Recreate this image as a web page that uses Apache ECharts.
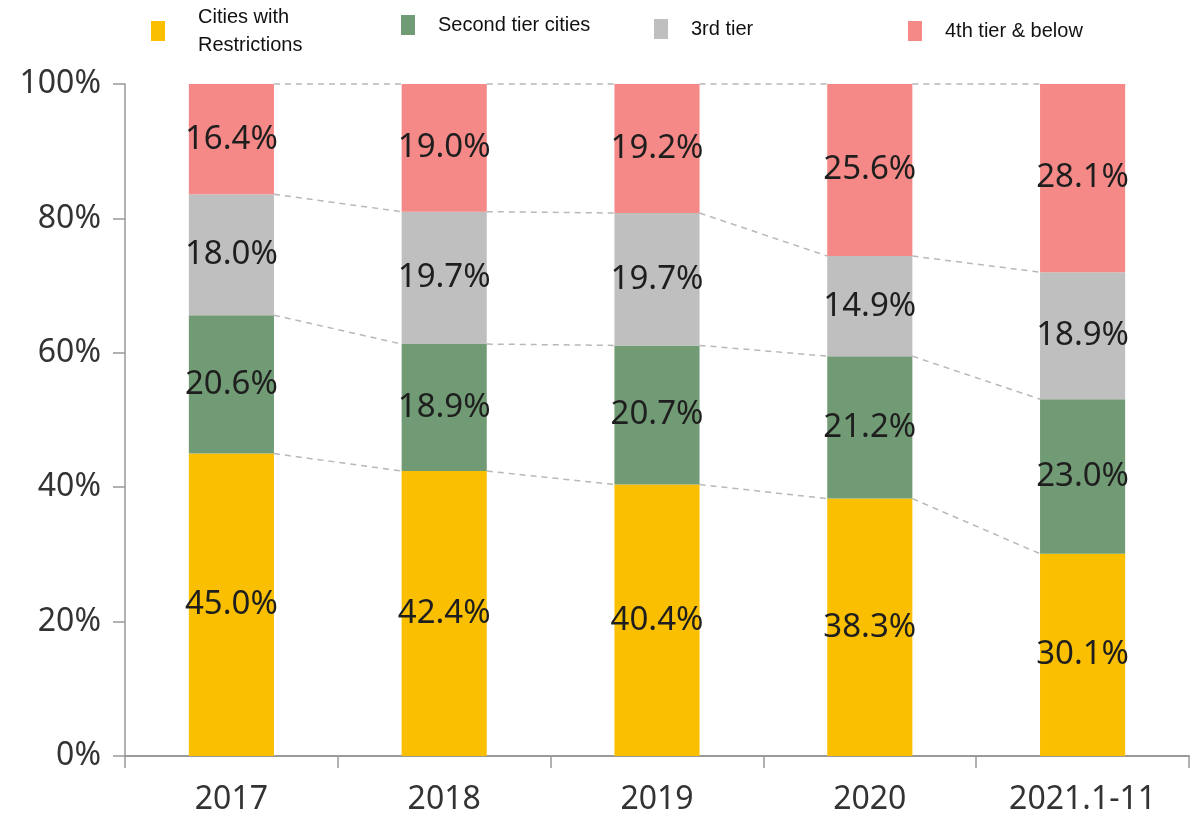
<!DOCTYPE html>
<html>
<head>
<meta charset="utf-8">
<script src="https://cdn.jsdelivr.net/npm/echarts@6/dist/echarts.min.js"></script>
<style>
  html, body { margin: 0; padding: 0; background: #fff; }
  #chart { width: 1191px; height: 817px; }
</style>
</head>
<body>
<div id="chart"></div>
<script>
var years = ['2017', '2018', '2019', '2020', '2021.1-11'];
var restricted = [45.0, 42.4, 40.4, 38.3, 30.1];
var secondTier = [20.6, 18.9, 20.7, 21.2, 23.0];
var thirdTier = [18.0, 19.7, 19.7, 14.9, 18.9];
var fourthTier = [16.4, 19.0, 19.2, 25.6, 28.1];
var yTicks = [0, 20, 40, 60, 80, 100];

var names = ['Cities with\nRestrictions', 'Second tier cities', '3rd tier', '4th tier & below'];
var colors = ['#f9bf00', '#719b74', '#bfbfbf', '#f58987'];
var groups = [restricted, secondTier, thirdTier, fourthTier];

// dashed connectors between neighbouring bars, at every stack boundary
var links = [];
for (var i = 0; i < years.length - 1; i++) {
  var a = 0, b = 0;
  for (var k = 0; k < groups.length; k++) {
    a += groups[k][i];
    b += groups[k][i + 1];
    if (k === groups.length - 1) { a = 100; b = 100; }
    links.push([i, a, b]);
  }
}

var labelStyle = {
  show: true,
  position: 'inside',
  color: '#1e1e1e',
  fontSize: 33,
  fontFamily: 'Noto Sans',
  formatter: function (p) { return p.value.toFixed(1) + '%'; }
};

var series = groups.map(function (g, k) {
  return {
    name: names[k],
    type: 'bar',
    stack: 'total',
    barWidth: '40%',
    itemStyle: { color: colors[k] },
    label: labelStyle,
    data: g
  };
});

series.push({
  type: 'custom',
  silent: true,
  z: 1,
  encode: { x: 0, y: 1 },
  renderItem: function (params, api) {
    var half = api.size([1, 0])[0] * 0.2;
    var p1 = api.coord([api.value(0), api.value(1)]);
    var p2 = api.coord([api.value(0) + 1, api.value(2)]);
    return {
      type: 'line',
      shape: { x1: p1[0] + half, y1: p1[1], x2: p2[0] - half, y2: p2[1] },
      style: { stroke: '#b8b8b8', lineWidth: 1.5, lineDash: [6, 5] }
    };
  },
  data: links
});

var legendBase = {
  orient: 'horizontal',
  itemWidth: 14,
  itemHeight: 20,
  itemGap: 0,
  icon: 'rect',
  selectedMode: false,
  textStyle: { fontSize: 20, color: '#111', fontFamily: 'Liberation Sans', padding: [0, 0, 0, 18] }
};
var legendPos = [[146, -13], [396, 10], [649, 14], [903, 16]];
var legends = names.map(function (n, k) {
  var l = Object.assign({}, legendBase, {
    left: legendPos[k][0],
    top: legendPos[k][1],
    data: [n]
  });
  if (k === 0) {
    // first entry wraps onto two lines
    l.textStyle = Object.assign({}, legendBase.textStyle, { lineHeight: 28, padding: [22, 0, 0, 28] });
  }
  return l;
});

var chart = echarts.init(document.getElementById('chart'));
chart.setOption({
  animation: false,
  legend: legends,
  grid: { left: 125, right: 2, top: 84, bottom: 61, containLabel: false },
  xAxis: {
    type: 'category',
    data: years,
    axisLine: { lineStyle: { color: '#999', width: 2 } },
    axisTick: { show: true, length: 12, lineStyle: { color: '#999', width: 1.5 } },
    axisLabel: { fontSize: 32, color: '#333', fontFamily: 'Noto Sans', margin: 28 }
  },
  yAxis: {
    type: 'value',
    min: yTicks[0],
    max: yTicks[yTicks.length - 1],
    interval: 20,
    axisLine: { show: true, lineStyle: { color: '#999', width: 1.5 } },
    axisTick: { show: true, length: 12, lineStyle: { color: '#999', width: 1.5 } },
    splitLine: { show: false },
    axisLabel: { fontSize: 32, color: '#333', fontFamily: 'Noto Sans', margin: 24, formatter: '{value}%' }
  },
  series: series
});
</script>
</body>
</html>
